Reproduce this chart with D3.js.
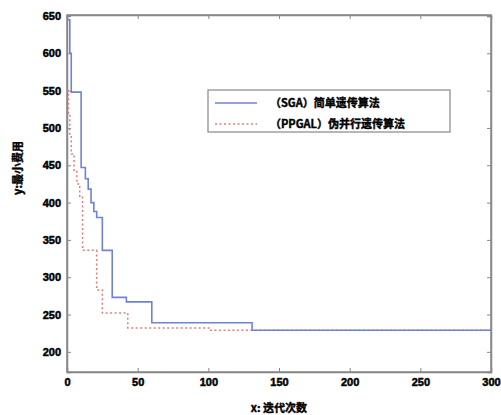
<!DOCTYPE html>
<html><head><meta charset="utf-8">
<script src="https://cdn.jsdelivr.net/npm/d3@7/dist/d3.min.js"></script>
<style>body{margin:0;background:#fff}svg{display:block}</style>
</head><body>
<svg id="c" width="501" height="415"></svg>
<script>
const xTicks = [0,50,100,150,200,250,300];
const yTicks = [200,250,300,350,400,450,500,550,600,650];
const seriesNames = ["（SGA）简单遗传算法","（PPGAL）伪并行遗传算法"];
const sgaX = [0,2,3,10,13,15,17,19,21,25,32,42,60,131,300];
const sgaY = [645,600,548,447,432,418,400,388,380,336,273,267,239,229,229];
const ppgaX = [0,1,2,3,5,7,9,11,21,25,43,101,300];
const ppgaY = [550,520,490,465,443,425,407,336,283,252,232,229,229];
const xLabel = "x: 迭代次数";
const yLabel = "y:最小费用";

const svg = d3.select("#c");
const L=67,R=491,T=16,B=372;
const x = d3.scaleLinear().domain([0,300]).range([L,R]);
const y = d3.scaleLinear().domain([173,650]).range([B,T]);
const font = "'Noto Sans CJK SC','Liberation Sans',sans-serif";
const numFont = "'Liberation Sans',Arial,sans-serif";

const g = svg.append("g");
g.append("rect").attr("x",L).attr("y",T-1).attr("width",R-L).attr("height",B-T+1)
 .attr("fill","#fff").attr("stroke","#888").attr("stroke-width",1.5);

const ax = g.append("g").attr("transform",`translate(0,${B})`)
 .call(d3.axisBottom(x).tickValues(xTicks).tickSize(-4).tickPadding(6));
const axT = g.append("g").attr("transform",`translate(0,${T-1})`)
 .call(d3.axisTop(x).tickValues(xTicks).tickSize(-4).tickFormat(""));
const ay = g.append("g").attr("transform",`translate(${L},0)`)
 .call(d3.axisLeft(y).tickValues(yTicks).tickSize(-4).tickPadding(6));
const ayR = g.append("g").attr("transform",`translate(${R},0)`)
 .call(d3.axisRight(y).tickValues(yTicks).tickSize(-4).tickFormat(""));
[ax,axT,ay,ayR].forEach(a=>{
  a.select(".domain").attr("stroke","#888").attr("stroke-width",1.5);
  a.selectAll(".tick line").attr("stroke","#888");
  a.selectAll("text").attr("font-family",numFont).attr("font-weight","bold").attr("font-size",11)
   .attr("fill","#000").attr("stroke","#000").attr("stroke-width",0.5);
});

const line = d3.line().curve(d3.curveStepAfter).x(d=>x(d[0])).y(d=>y(d[1]));
const sga = sgaX.map((v,i)=>[v,sgaY[i]]);
const ppga = ppgaX.map((v,i)=>[v,ppgaY[i]]);
g.append("path").attr("d",line(ppga)).attr("fill","none").attr("stroke","#e77b7b").attr("stroke-width",1.5).attr("stroke-dasharray","2,2.5");
g.append("path").attr("d",line(sga)).attr("fill","none").attr("stroke","#6f82d8").attr("stroke-width",1.6);

const lg = g.append("g");
lg.append("rect").attr("x",208).attr("y",90).attr("width",242).attr("height",42).attr("fill","#fff").attr("stroke","#888").attr("stroke-width",1.2);
lg.append("line").attr("x1",215).attr("x2",257).attr("y1",103).attr("y2",103).attr("stroke","#6f82d8").attr("stroke-width",1.6);
lg.append("line").attr("x1",215).attr("x2",257).attr("y1",124).attr("y2",124).attr("stroke","#e77b7b").attr("stroke-width",1.5).attr("stroke-dasharray","2,2.5");
lg.selectAll("text.l").data(seriesNames).enter().append("text")
 .attr("x",270).attr("y",(d,i)=>i==0?107:128)
 .attr("font-family",font).attr("font-weight","bold").attr("font-size",11)
 .attr("stroke","#000").attr("stroke-width",0.4).text(d=>d);

svg.append("text").attr("x",(L+R)/2).attr("y",412).attr("text-anchor","middle")
 .attr("font-family",font).attr("font-weight","bold").attr("font-size",11)
 .attr("stroke","#000").attr("stroke-width",0.4).text(xLabel);
svg.append("text").attr("transform",`translate(22,168) rotate(-90)`).attr("text-anchor","middle")
 .attr("font-family",font).attr("font-weight","bold").attr("font-size",11)
 .attr("stroke","#000").attr("stroke-width",0.4).text(yLabel);
</script>
</body></html>
